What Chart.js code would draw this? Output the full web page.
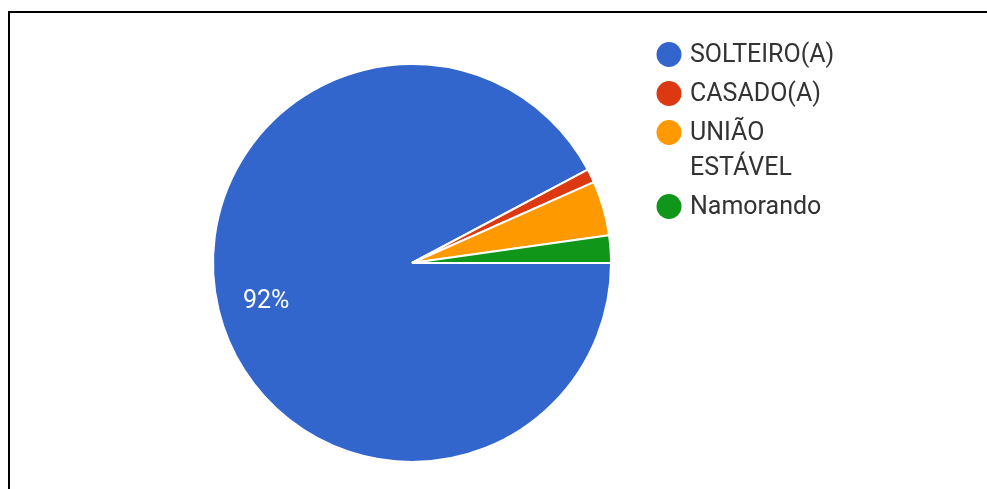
<!DOCTYPE html>
<html>
<head>
<meta charset="utf-8">
<title>Estado civil</title>
<script src="https://cdn.jsdelivr.net/npm/chart.js@4.4.0/dist/chart.umd.min.js"></script>
<style>
    html, body { margin: 0; padding: 0; background: #fff; }
    #wrap { position: relative; width: 987px; height: 489px; overflow: hidden; }
    #frame {
        position: absolute; left: 8px; top: 11px; width: 1000px; height: 500px;
        border-top: 2px solid #000; border-left: 2px solid #000;
    }
    #chart { position: absolute; left: 0; top: 0; }
</style>
</head>
<body>
<div id="wrap">
    <div id="frame"></div>
    <canvas id="chart" width="987" height="489"></canvas>
</div>
<script>
// Marital status answers (counts)
const categories = ['SOLTEIRO(A)', 'CASADO(A)', ['UNIÃO', 'ESTÁVEL'], 'Namorando'];
const counts = [83, 1, 4, 2];
const sliceColors = ['#3366cc', '#dc3912', '#ff9900', '#109618'];

const FONT = 'Roboto, "Noto Sans", sans-serif';

// Percentage labels inside slices (only big enough slices)
const sliceLabels = {
    id: 'sliceLabels',
    afterDatasetsDraw(chart) {
        const ctx = chart.ctx;
        const meta = chart.getDatasetMeta(0);
        const data = chart.data.datasets[0].data;
        const total = data.reduce((a, b) => a + b, 0);
        ctx.save();
        ctx.font = '25px ' + FONT;
        ctx.fillStyle = '#ffffff';
        ctx.textAlign = 'center';
        ctx.textBaseline = 'middle';
        meta.data.forEach((arc, i) => {
            const pct = data[i] / total * 100;
            if (pct < 5) return;
            const p = arc.getProps(['x', 'y', 'startAngle', 'endAngle', 'outerRadius'], true);
            const mid = (p.startAngle + p.endAngle) / 2;
            const r = p.outerRadius * 0.755;
            ctx.fillText(Math.round(pct) + '%', p.x + Math.cos(mid) * r, p.y + 2 + Math.sin(mid) * r);
        });
        ctx.restore();
    }
};

// Legend on the right with round markers and wrapped labels
const sideLegend = {
    id: 'sideLegend',
    afterDraw(chart) {
        const ctx = chart.ctx;
        const area = chart.chartArea;
        const dotX = area.right + 57;
        const textX = dotX + 21;
        const lineH = 35;
        let y = 54.5;
        ctx.save();
        ctx.font = '25px ' + FONT;
        ctx.textBaseline = 'middle';
        ctx.textAlign = 'left';
        chart.data.labels.forEach((label, i) => {
            const lines = Array.isArray(label) ? label : [label];
            ctx.fillStyle = sliceColors[i];
            ctx.beginPath();
            ctx.arc(dotX, y, 12.5, 0, Math.PI * 2);
            ctx.fill();
            ctx.fillStyle = '#333333';
            lines.forEach((line, j) => ctx.fillText(line, textX, y + 1 + j * lineH));
            y += lines.length * lineH + 4;
        });
        ctx.restore();
    }
};

new Chart(document.getElementById('chart'), {
    type: 'pie',
    data: {
        labels: categories,
        datasets: [{
            data: counts,
            backgroundColor: sliceColors,
            borderColor: '#ffffff',
            borderWidth: 2
        }]
    },
    options: {
        responsive: false,
        animation: false,
        rotation: 90,
        layout: { padding: { left: 212, top: 63, right: 375, bottom: 26 } },
        plugins: {
            legend: { display: false },
            tooltip: { enabled: false }
        }
    },
    plugins: [sliceLabels, sideLegend]
});
</script>
</body>
</html>
